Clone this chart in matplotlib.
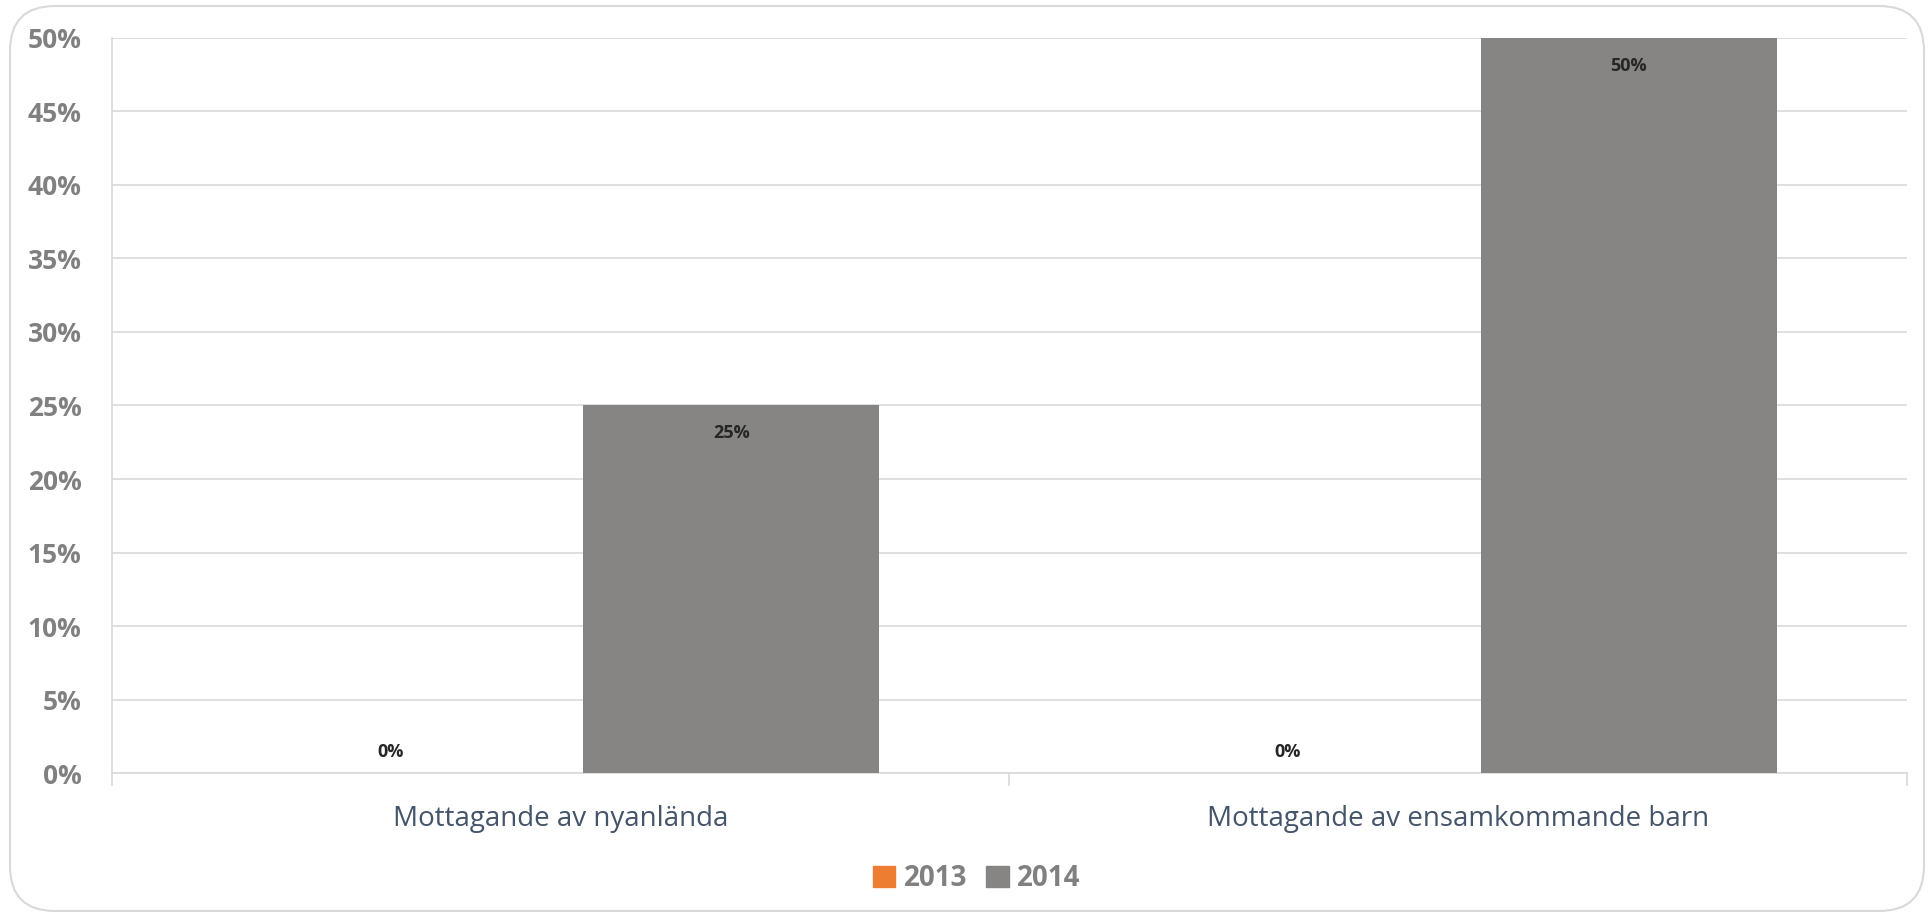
import numpy as np
import matplotlib
matplotlib.use("Agg")
import matplotlib.pyplot as plt
from matplotlib.patches import FancyBboxPatch, Patch

plt.rcParams['font.family'] = ['Open Sans', 'DejaVu Sans']

# data
categories = ["Mottagande av nyanlända", "Mottagande av ensamkommande barn"]
series_names = ["2013", "2014"]
values_2013 = [0.00, 0.00]
values_2014 = [0.25, 0.50]
y_ticks = [0.00, 0.05, 0.10, 0.15, 0.20, 0.25, 0.30, 0.35, 0.40, 0.45, 0.50]

col_2013 = "#ED7D31"
col_2014 = "#868583"
grid_col = "#D9D9D9"

fig = plt.figure(figsize=(19.32, 9.17), dpi=100)

# rounded chart border (drawn in pixel units)
border = FancyBboxPatch((10, 6), 1914, 905,
                        boxstyle="round,pad=0,rounding_size=45",
                        transform=None, facecolor="none",
                        edgecolor="#D9D9D9", linewidth=1.5, zorder=-5)
fig.patches.append(border)

ax = fig.add_axes([0.058, 0.157, 0.929, 0.8016])
ax.set_facecolor("none")

x = np.arange(len(categories))
width = 0.33
offset = 0.19
b1 = ax.bar(x - offset, values_2013, width, color=col_2013, label=series_names[0], zorder=3)
b2 = ax.bar(x + offset, values_2014, width, color=col_2014, label=series_names[1], zorder=3)

ax.set_xlim(-0.5, len(categories) - 0.5)
ax.set_ylim(0, 0.5)
ax.set_yticks(y_ticks)
ax.set_yticklabels([f"{int(round(t * 100))}%" for t in y_ticks],
                   fontsize=19, fontweight="bold", color="#808080")
ax.tick_params(axis="y", length=0, pad=22)
ax.grid(axis="y", color=grid_col, linewidth=1.2, zorder=0)

ax.set_xticks(x)
ax.set_xticklabels(categories, fontsize=20, color="#44546A")
ax.tick_params(axis="x", length=0, pad=23)
# category boundary ticks
for xb in np.arange(-0.5, len(categories), 1.0):
    ax.plot([xb, xb], [0, -0.008], color=grid_col, linewidth=1.2,
            clip_on=False, zorder=2)

for s in ["top", "right"]:
    ax.spines[s].set_visible(False)
ax.spines["left"].set_color(grid_col)
ax.spines["bottom"].set_color(grid_col)
ax.spines["left"].set_linewidth(1.2)
ax.spines["bottom"].set_linewidth(1.2)

# data labels (inside end; zero bars get the label just above the base)
for bars in (b1, b2):
    for rect in bars:
        h = rect.get_height()
        dy = -20 if h > 0 else 15
        ax.annotate(f"{int(round(h * 100))}%",
                    (rect.get_x() + rect.get_width() / 2, h),
                    xytext=(0, dy), textcoords="offset points",
                    ha="center", va="center", fontsize=13,
                    fontweight="bold", color="#262626", zorder=4)

handles = [Patch(color=col_2013), Patch(color=col_2014)]
fig.legend(handles, series_names, loc="center", bbox_to_anchor=(0.5055, 0.042),
           ncol=2, frameon=False, handlelength=0.8, handleheight=0.8,
           handletextpad=0.3, columnspacing=0.7,
           prop={"size": 20, "weight": "bold"}, labelcolor="#808080")

fig.savefig("out.png", dpi=100)
